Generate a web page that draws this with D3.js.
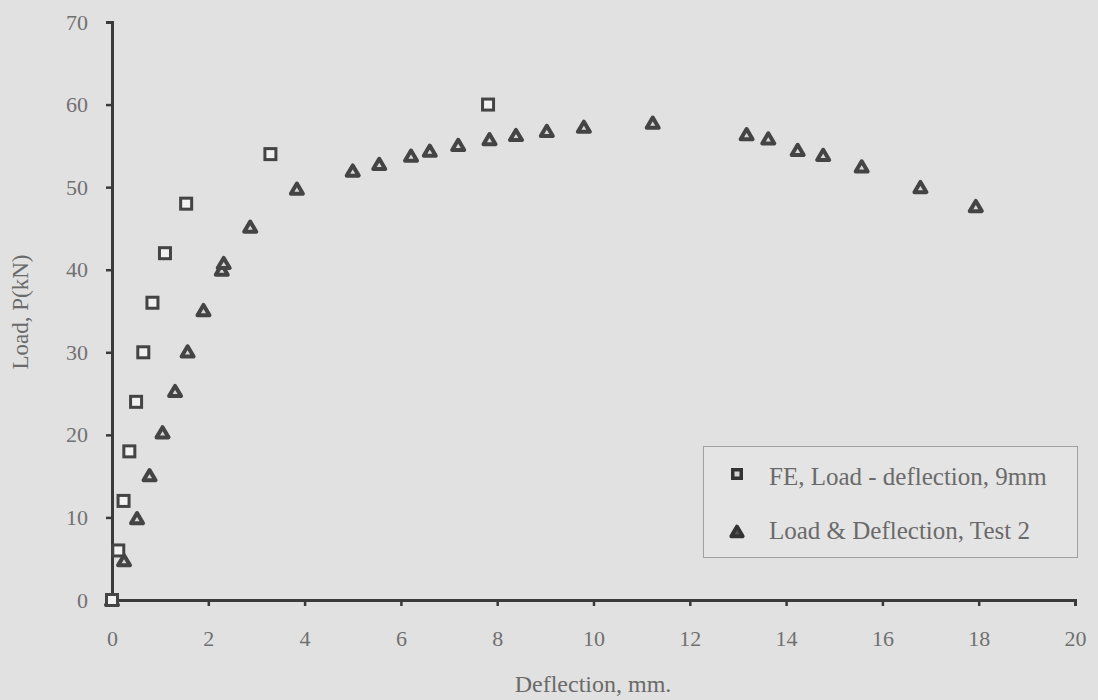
<!DOCTYPE html>
<html>
<head>
<meta charset="utf-8">
<script src="https://cdn.jsdelivr.net/npm/d3@7"></script>
<style>
  html, body { margin: 0; padding: 0; background: #e1e1e1; }
  svg { display: block; }
  text { font-family: "Liberation Serif", "DejaVu Serif", serif; fill: #6a6a6a; }
</style>
</head>
<body>
<svg id="chart" width="1098" height="700"></svg>
<script>
// FE model: load-deflection, 9mm
const feDeflection = [0, 0.13, 0.24, 0.36, 0.50, 0.65, 0.84, 1.10, 1.54, 3.29, 7.81];
const feLoad       = [0, 6, 12, 18, 24, 30, 36, 42, 48, 54, 60];

// Laboratory test 2: load & deflection
const testDeflection = [0, 0.25, 0.52, 0.78, 1.05, 1.31, 1.57, 1.90, 2.28, 2.32, 2.87, 3.84,
  5.00, 5.55, 6.21, 6.60, 7.19, 7.84, 8.39, 9.03, 9.80, 11.23,
  13.18, 13.63, 14.24, 14.77, 15.57, 16.79, 17.94];
const testLoad = [0, 4.8, 9.9, 15.1, 20.3, 25.3, 30.1, 35.1, 40.0, 40.8, 45.2, 49.8,
  52.0, 52.8, 53.8, 54.4, 55.1, 55.8, 56.3, 56.8, 57.3, 57.8,
  56.4, 55.9, 54.5, 53.9, 52.5, 50.0, 47.7];

const xTicks = [0, 2, 4, 6, 8, 10, 12, 14, 16, 18, 20];
const yTicks = [0, 10, 20, 30, 40, 50, 60, 70];

const legendLabels = ["FE, Load - deflection, 9mm", "Load & Deflection, Test 2"];

const svg = d3.select("#chart");
const plotLeft = 112, plotRight = 1075, plotTop = 22, plotBottom = 600;

const x = d3.scaleLinear().domain([0, 20]).range([plotLeft, plotRight]);
const y = d3.scaleLinear().domain([0, 70]).range([plotBottom, plotTop]);

const axisColor = "#3a3a3a";
const markColor = "#444";
const tickFont = "22px";

// X axis
const gx = svg.append("g").attr("transform", `translate(0,${plotBottom})`)
  .call(d3.axisBottom(x).tickValues(xTicks).tickSize(6).tickPadding(24).tickFormat(d3.format("d")));
gx.select(".domain").attr("stroke", axisColor).attr("stroke-width", 3);
gx.selectAll(".tick line").attr("stroke", axisColor).attr("stroke-width", 2.5);
gx.selectAll(".tick text").style("font-size", tickFont).style("fill", "#707070")
  .attr("font-family", "Liberation Serif, serif");

// Y axis
const gy = svg.append("g").attr("transform", `translate(${plotLeft},0)`)
  .call(d3.axisLeft(y).tickValues(yTicks).tickSize(6).tickPadding(18).tickFormat(d3.format("d")));
gy.select(".domain").attr("stroke", axisColor).attr("stroke-width", 3);
gy.selectAll(".tick line").attr("stroke", axisColor).attr("stroke-width", 2.5);
gy.selectAll(".tick text").style("font-size", tickFont).style("fill", "#707070")
  .attr("font-family", "Liberation Serif, serif");

// Axis titles
svg.append("text").attr("x", 593).attr("y", 692)
  .attr("text-anchor", "middle").style("font-size", "24px").text("Deflection, mm.");
svg.append("text").attr("transform", `translate(28,312) rotate(-90)`)
  .attr("text-anchor", "middle").style("font-size", "23px").text("Load, P(kN)");

// Marker shapes
const triPath = "M0,-5.2 L6,5 L-6,5 Z";
function drawSquare(sel) {
  sel.attr("x", -5.5).attr("y", -5.5).attr("width", 11).attr("height", 11)
    .attr("fill", "#f2f2f2").attr("stroke", markColor).attr("stroke-width", 3);
}
function drawTri(sel) {
  sel.attr("d", triPath).attr("fill", "#d8d8d8").attr("stroke", markColor)
    .attr("stroke-width", 4).attr("stroke-linejoin", "round");
}

// Test data: triangles
const testData = testDeflection.map((d, i) => ({ d, p: testLoad[i] }));
svg.append("g").selectAll("path").data(testData).join("path")
  .attr("transform", d => `translate(${x(d.d)},${y(d.p)})`)
  .call(drawTri);

// FE data: squares
const feData = feDeflection.map((d, i) => ({ d, p: feLoad[i] }));
svg.append("g").selectAll("rect").data(feData).join("rect")
  .attr("transform", d => `translate(${x(d.d)},${y(d.p)})`)
  .call(drawSquare);

// Legend
const lg = svg.append("g");
lg.append("rect").attr("x", 703.5).attr("y", 446.5).attr("width", 374).attr("height", 111)
  .attr("fill", "#e4e4e4").attr("stroke", "#a0a0a0").attr("stroke-width", 1);
lg.append("rect").attr("transform", "translate(737,474)")
  .attr("x", -4.25).attr("y", -4.25).attr("width", 8.5).attr("height", 8.5)
  .attr("fill", "#d4d4d4").attr("stroke", "#333").attr("stroke-width", 3.5);
lg.append("text").attr("x", 769).attr("y", 485).style("font-size", "25px").text(legendLabels[0]);
lg.append("path").attr("transform", "translate(737,531.5) scale(0.95)")
  .attr("d", triPath).attr("fill", "#555").attr("stroke", "#333")
  .attr("stroke-width", 4).attr("stroke-linejoin", "round");
lg.append("text").attr("x", 769).attr("y", 539).style("font-size", "25px").text(legendLabels[1]);
</script>
</body>
</html>
